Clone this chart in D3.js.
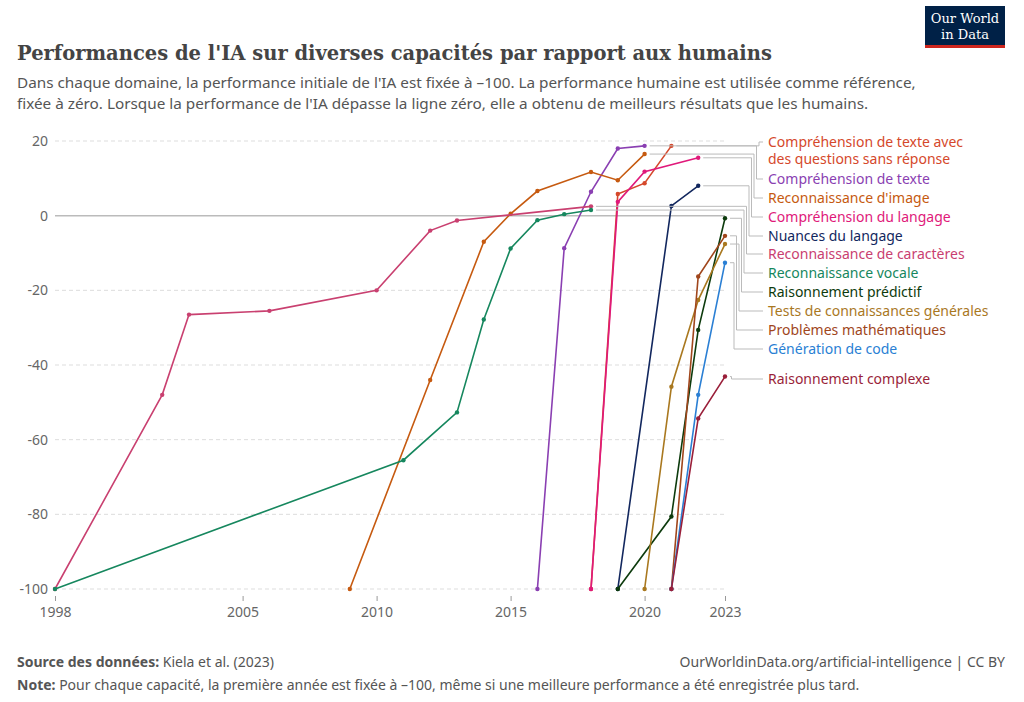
<!DOCTYPE html>
<html><head><meta charset="utf-8">
<script src="https://cdn.jsdelivr.net/npm/d3@7"></script>
<style>body{margin:0;background:#fff;font-family:"Noto Sans",sans-serif}</style>
</head><body>
<script>
// Donnees
const names = ["Compréhension de texte avec des questions sans réponse","Compréhension de texte","Reconnaissance d'image","Compréhension du langage","Nuances du langage","Reconnaissance de caractères","Reconnaissance vocale","Raisonnement prédictif","Tests de connaissances générales","Problèmes mathématiques","Génération de code","Raisonnement complexe"];
const colors = ["#d5482b","#8a3fb2","#c65a10","#e0197a","#12275e","#c94070","#16875e","#0d3b0d","#a9781f","#a0461c","#2a7fd4","#9a1f3a"];
const years = [
  [2018,2019,2020,2021],
  [2016,2017,2018,2019,2020],
  [2009,2012,2014,2015,2016,2018,2019,2020],
  [2018,2019,2020,2022],
  [2019,2021,2022],
  [1998,2002,2003,2006,2010,2012,2013,2018],
  [1998,2011,2013,2014,2015,2016,2017,2018],
  [2019,2021,2022,2023],
  [2020,2021,2022,2023],
  [2021,2022,2023],
  [2021,2022,2023],
  [2021,2022,2023]
];
const values = [
  [-100,5.8,8.7,18.7],
  [-100,-8.7,6.4,18,18.7],
  [-100,-44,-7,0.5,6.6,11.7,9.5,16.5],
  [-100,3.7,11.8,15.5],
  [-100,2.6,8],
  [-100,-48,-26.5,-25.5,-20,-4,-1.3,2.5],
  [-100,-65.5,-52.7,-27.8,-8.8,-1.2,0.4,1.5],
  [-100,-80.6,-30.6,-0.7],
  [-100,-45.8,-22.6,-7.6],
  [-100,-16.3,-5.4],
  [-100,-48,-12.6],
  [-100,-54.3,-43.1]
];
const labelY = [147,184,203,222,241,259,278,297,316,335,354,384];
const xTicks = [1998,2005,2010,2015,2020,2023];
const yTicks = [-100,-80,-60,-40,-20,0,20];

const W = 1024, H = 702;
const svg = d3.select("body").append("svg").attr("width", W).attr("height", H);

// Titres
svg.append("text").attr("x",17).attr("y",60).text("Performances de l'IA sur diverses capacités par rapport aux humains")
  .attr("font-family","'DejaVu Serif',Georgia,serif").attr("font-weight","bold").attr("font-size",19.5).attr("fill","#444");
["Dans chaque domaine, la performance initiale de l'IA est fixée à –100. La performance humaine est utilisée comme référence,",
 "fixée à zéro. Lorsque la performance de l'IA dépasse la ligne zéro, elle a obtenu de meilleurs résultats que les humains."]
 .forEach((t,i)=>svg.append("text").attr("x",17).attr("y",88+i*21).text(t).attr("font-size",15.3).attr("fill","#555"));

// Logo
const logo = svg.append("g").attr("transform","translate(925,6)");
logo.append("rect").attr("width",80).attr("height",42).attr("fill","#002147");
logo.append("rect").attr("y",39).attr("width",80).attr("height",3).attr("fill","#ce261e");
logo.append("text").attr("x",40).attr("y",17).attr("text-anchor","middle").attr("fill","#fff").attr("font-size",13).attr("font-family","'DejaVu Serif',serif").text("Our World");
logo.append("text").attr("x",40).attr("y",33).attr("text-anchor","middle").attr("fill","#fff").attr("font-size",13).attr("font-family","'DejaVu Serif',serif").text("in Data");

// Echelles
const x = d3.scaleLinear().domain([1998,2023]).range([55,725]);
const y = d3.scaleLinear().domain([-100,20]).range([589,141]);

// Grille
svg.append("g").selectAll("line").data(yTicks).join("line")
  .attr("x1",55).attr("x2",725).attr("y1",d=>y(d)).attr("y2",d=>y(d))
  .attr("stroke",d=>d===0?"#bbb":"#ddd").attr("stroke-width",d=>d===0?1.5:1)
  .attr("stroke-dasharray",d=>d===0?null:"4,3");
svg.append("g").selectAll("text").data(yTicks).join("text")
  .attr("x",48).attr("y",d=>y(d)+5).attr("text-anchor","end").attr("font-size",14).attr("fill","#666").text(d=>d);

const xa = svg.append("g").attr("transform","translate(0,596)")
  .call(d3.axisBottom(x).tickValues(xTicks).tickFormat(d3.format("d")).tickSize(5));
xa.select(".domain").remove();
xa.selectAll("line").attr("stroke","#999");
xa.selectAll("text").attr("font-size",14).attr("fill","#666").attr("font-family","'Noto Sans',sans-serif").attr("dy","0.9em");

// Lignes
const line = d3.line().x(d=>x(d[0])).y(d=>y(d[1]));
names.forEach((n,i)=>{
  const pts = years[i].map((yr,j)=>[yr,values[i][j]]);
  svg.append("path").datum(pts).attr("d",line).attr("fill","none").attr("stroke",colors[i]).attr("stroke-width",1.6);
  svg.append("g").selectAll("circle").data(pts).join("circle")
    .attr("cx",d=>x(d[0])).attr("cy",d=>y(d[1])).attr("r",2.2).attr("fill",colors[i]);
});

// Legende avec connecteurs
names.forEach((n,i)=>{
  const last = values[i][values[i].length-1];
  const ly = labelY[i];
  const ex = x(years[i][years[i].length-1]) + 5;
  const kx = 762 - 3 - i*2.5;
  svg.append("path").attr("d",`M${ex},${y(last)}H${kx}V${ly-5}H763`)
    .attr("fill","none").attr("stroke","#bbb").attr("stroke-width",1);
  const t = svg.append("text").attr("x",768).attr("y",ly).attr("font-size",14).attr("fill",colors[i]);
  if (i===0) {
    t.append("tspan").attr("x",768).text("Compréhension de texte avec");
    t.append("tspan").attr("x",768).attr("dy",17).text("des questions sans réponse");
  } else t.text(n);
});

// Pied de page
const s = svg.append("text").attr("x",17).attr("y",667).attr("font-size",14).attr("fill","#555");
s.append("tspan").attr("font-weight","bold").text("Source des données:");
s.append("tspan").text(" Kiela et al. (2023)");
svg.append("text").attr("x",1005).attr("y",667).attr("text-anchor","end").attr("font-size",14).attr("fill","#555")
  .text("OurWorldinData.org/artificial-intelligence | CC BY");
const nt = svg.append("text").attr("x",17).attr("y",690).attr("font-size",14).attr("fill","#555");
nt.append("tspan").attr("font-weight","bold").text("Note:");
nt.append("tspan").text(" Pour chaque capacité, la première année est fixée à –100, même si une meilleure performance a été enregistrée plus tard.");
</script>
</body></html>
